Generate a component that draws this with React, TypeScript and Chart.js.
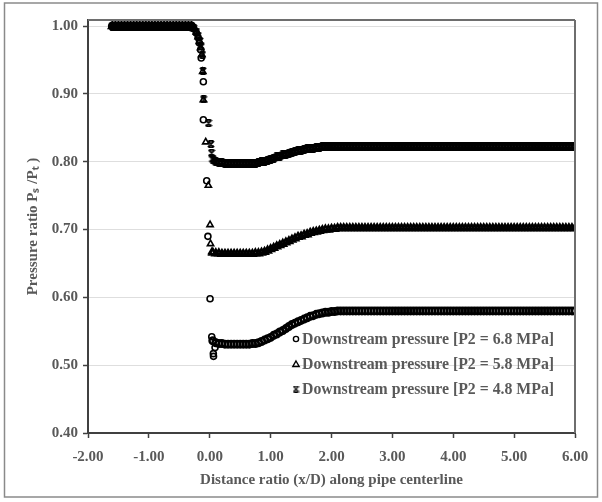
import React, { useEffect, useRef } from 'react';
import { Chart, registerables } from 'chart.js';

Chart.register(...registerables);

// ---------- DATA ----------
const seriesLabels = [
  'Downstream pressure [P2 = 6.8 MPa]',
  'Downstream pressure [P2 = 5.8 MPa]',
  'Downstream pressure [P2 = 4.8 MPa]',
];

const xTickValues = [-2, -1, 0, 1, 2, 3, 4, 5, 6];
const yTickValues = [0.4, 0.5, 0.6, 0.7, 0.8, 0.9, 1.0];

// upstream plateau (shared by all three cases)
const upstreamX = [
  -1.60, -1.55, -1.50, -1.45, -1.40, -1.35, -1.30, -1.25, -1.20, -1.15,
  -1.10, -1.05, -1.00, -0.95, -0.90, -0.85, -0.80, -0.75, -0.70, -0.65,
  -0.60, -0.55, -0.50, -0.45, -0.40, -0.35, -0.30,
];
const upstreamY = [
  1.000, 1.000, 1.000, 1.000, 1.000, 1.000, 1.000, 1.000, 1.000, 1.000,
  1.000, 1.000, 1.000, 1.000, 1.000, 1.000, 1.000, 1.000, 1.000, 1.000,
  1.000, 1.000, 1.000, 1.000, 1.000, 1.000, 1.000,
];

// steep drop near the throat
const drop68X = [-0.26, -0.22, -0.19, -0.17, -0.15, -0.14, -0.105, -0.105, -0.05, -0.03, 0.005, 0.033, 0.059, 0.062, 0.087];
const drop68Y = [0.996, 0.990, 0.983, 0.975, 0.965, 0.953, 0.918, 0.862, 0.772, 0.690, 0.598, 0.542, 0.517, 0.513, 0.526];

const drop58X = [-0.26, -0.22, -0.19, -0.17, -0.15, -0.13, -0.115, -0.105, -0.066, -0.023, 0.005, 0.013, 0.033];
const drop58Y = [0.996, 0.991, 0.984, 0.977, 0.968, 0.958, 0.933, 0.891, 0.829, 0.765, 0.707, 0.679, 0.667];

const drop48X = [-0.26, -0.22, -0.19, -0.16, -0.14, -0.12, -0.11, -0.10, -0.02, 0.02, 0.03];
const drop48Y = [0.997, 0.992, 0.986, 0.978, 0.970, 0.958, 0.934, 0.892, 0.857, 0.826, 0.813];

// downstream recovery
const bandX = [
  0.05, 0.10, 0.15, 0.20, 0.25, 0.30, 0.35, 0.40, 0.45, 0.50,
  0.55, 0.60, 0.65, 0.70, 0.75, 0.80, 0.85, 0.90, 0.95, 1.00,
  1.05, 1.10, 1.15, 1.20, 1.25, 1.30, 1.35, 1.40, 1.45, 1.50,
  1.55, 1.60, 1.65, 1.70, 1.75, 1.80, 1.85, 1.90, 1.95, 2.00,
  2.05, 2.10, 2.15, 2.20, 2.25, 2.30, 2.35, 2.40, 2.45, 2.50,
  2.55, 2.60, 2.65, 2.70, 2.75, 2.80, 2.85, 2.90, 2.95, 3.00,
  3.05, 3.10, 3.15, 3.20, 3.25, 3.30, 3.35, 3.40, 3.45, 3.50,
  3.55, 3.60, 3.65, 3.70, 3.75, 3.80, 3.85, 3.90, 3.95, 4.00,
  4.05, 4.10, 4.15, 4.20, 4.25, 4.30, 4.35, 4.40, 4.45, 4.50,
  4.55, 4.60, 4.65, 4.70, 4.75, 4.80, 4.85, 4.90, 4.95, 5.00,
  5.05, 5.10, 5.15, 5.20, 5.25, 5.30, 5.35, 5.40, 5.45, 5.50,
  5.55, 5.60, 5.65, 5.70, 5.75, 5.80, 5.85, 5.90, 5.95, 6.00,
];

const band68Y = [
  0.536, 0.533, 0.532, 0.532, 0.531, 0.531, 0.531, 0.531, 0.531, 0.531,
  0.531, 0.531, 0.531, 0.532, 0.532, 0.533, 0.535, 0.537, 0.539, 0.541,
  0.544, 0.546, 0.549, 0.551, 0.554, 0.557, 0.560, 0.562, 0.564, 0.566,
  0.568, 0.570, 0.572, 0.573, 0.575, 0.576, 0.577, 0.578, 0.578, 0.579,
  0.579, 0.580, 0.580, 0.580, 0.580, 0.580, 0.580, 0.580, 0.580, 0.580,
  0.580, 0.580, 0.580, 0.580, 0.580, 0.580, 0.580, 0.580, 0.580, 0.580,
  0.580, 0.580, 0.580, 0.580, 0.580, 0.580, 0.580, 0.580, 0.580, 0.580,
  0.580, 0.580, 0.580, 0.580, 0.580, 0.580, 0.580, 0.580, 0.580, 0.580,
  0.580, 0.580, 0.580, 0.580, 0.580, 0.580, 0.580, 0.580, 0.580, 0.580,
  0.580, 0.580, 0.580, 0.580, 0.580, 0.580, 0.580, 0.580, 0.580, 0.580,
  0.580, 0.580, 0.580, 0.580, 0.580, 0.580, 0.580, 0.580, 0.580, 0.580,
  0.580, 0.580, 0.580, 0.580, 0.580, 0.580, 0.580, 0.580, 0.580, 0.580,
];

const band58Y = [
  0.666, 0.665, 0.665, 0.664, 0.664, 0.664, 0.664, 0.664, 0.664, 0.664,
  0.664, 0.664, 0.664, 0.664, 0.665, 0.665, 0.666, 0.667, 0.669, 0.671,
  0.673, 0.675, 0.677, 0.679, 0.681, 0.683, 0.685, 0.687, 0.689, 0.690,
  0.692, 0.693, 0.695, 0.696, 0.697, 0.698, 0.699, 0.700, 0.700, 0.701,
  0.701, 0.702, 0.702, 0.702, 0.702, 0.702, 0.702, 0.702, 0.702, 0.702,
  0.702, 0.702, 0.702, 0.702, 0.702, 0.702, 0.702, 0.702, 0.702, 0.702,
  0.702, 0.702, 0.702, 0.702, 0.702, 0.702, 0.702, 0.702, 0.702, 0.702,
  0.702, 0.702, 0.702, 0.702, 0.702, 0.702, 0.702, 0.702, 0.702, 0.702,
  0.702, 0.702, 0.702, 0.702, 0.702, 0.702, 0.702, 0.702, 0.702, 0.702,
  0.702, 0.702, 0.702, 0.702, 0.702, 0.702, 0.702, 0.702, 0.702, 0.702,
  0.702, 0.702, 0.702, 0.702, 0.702, 0.702, 0.702, 0.702, 0.702, 0.702,
  0.702, 0.702, 0.702, 0.702, 0.702, 0.702, 0.702, 0.702, 0.702, 0.702,
];

const band48Y = [
  0.804, 0.800, 0.799, 0.799, 0.798, 0.798, 0.798, 0.798, 0.798, 0.798,
  0.798, 0.798, 0.798, 0.798, 0.798, 0.799, 0.800, 0.801, 0.802, 0.804,
  0.805, 0.807, 0.808, 0.810, 0.811, 0.812, 0.814, 0.815, 0.816, 0.817,
  0.818, 0.819, 0.819, 0.820, 0.821, 0.821, 0.822, 0.822, 0.822, 0.823,
  0.823, 0.823, 0.823, 0.823, 0.823, 0.823, 0.823, 0.823, 0.823, 0.823,
  0.823, 0.823, 0.823, 0.823, 0.823, 0.823, 0.823, 0.823, 0.823, 0.823,
  0.823, 0.823, 0.823, 0.823, 0.823, 0.823, 0.823, 0.823, 0.823, 0.823,
  0.823, 0.823, 0.823, 0.823, 0.823, 0.823, 0.823, 0.823, 0.823, 0.823,
  0.823, 0.823, 0.823, 0.823, 0.823, 0.823, 0.823, 0.823, 0.823, 0.823,
  0.823, 0.823, 0.823, 0.823, 0.823, 0.823, 0.823, 0.823, 0.823, 0.823,
  0.823, 0.823, 0.823, 0.823, 0.823, 0.823, 0.823, 0.823, 0.823, 0.823,
  0.823, 0.823, 0.823, 0.823, 0.823, 0.823, 0.823, 0.823, 0.823, 0.823,
];

const xTitle = 'Distance ratio (x/D) along pipe centerline';
const yTitle = 'Pressure ratio P\u209B /P\u209C )';

// ---------- HELPERS ----------
function toPoints(xs: number[], ys: number[], dense: boolean) {
  return xs.map((x, i) => ({ x, y: ys[i], dense }));
}

const SERIF = '"Times New Roman", "Liberation Serif", serif';
const TEXT = '#595959';
const AXIS = '#404040';

function makeStar(size: number, lw: number) {
  const c = document.createElement('canvas');
  c.width = size;
  c.height = size;
  const g = c.getContext('2d')!;
  g.strokeStyle = '#000';
  g.lineWidth = lw;
  const a = lw / 2, b = size - lw / 2;
  g.beginPath();
  g.moveTo(a, a); g.lineTo(b, b);
  g.moveTo(b, a); g.lineTo(a, b);
  g.moveTo(a + 1, a); g.lineTo(b - 1, a);
  g.moveTo(a + 1, b); g.lineTo(b - 1, b);
  g.stroke();
  return c;
}

export default function App() {
  const ref = useRef<HTMLCanvasElement | null>(null);

  useEffect(() => {
    if (!ref.current) return;
    const star = makeStar(8, 1.8);
    const starDense = makeStar(9, 2.6);
    const starSmall = makeStar(7, 1.3);

    const framePlugin = {
      id: 'frame',
      beforeDraw(chart: any) {
        const { ctx } = chart;
        ctx.save();
        ctx.fillStyle = '#fff';
        ctx.fillRect(0, 0, chart.width, chart.height);
        ctx.strokeStyle = '#8a8a8a';
        ctx.lineWidth = 1.5;
        ctx.strokeRect(4.5, 3, 593, 494);
        ctx.restore();
      },
      afterDatasetsDraw(chart: any) {
        const { ctx, chartArea: ca } = chart;
        ctx.save();
        ctx.strokeStyle = '#6e6e6e';
        ctx.lineWidth = 2;
        ctx.beginPath();
        ctx.moveTo(ca.left, ca.top);
        ctx.lineTo(ca.right, ca.top);
        ctx.moveTo(ca.right, ca.top);
        ctx.lineTo(ca.right, ca.bottom);
        ctx.stroke();
        ctx.restore();
      },
    };

    const legendPlugin = {
      id: 'insideLegend',
      afterDraw(chart: any) {
        const { ctx, chartArea: ca } = chart;
        const x0 = ca.left + 208;
        const rowOffsets = [94, 69, 44];
        ctx.save();
        ctx.font = `bold 15.8px ${SERIF}`;
        ctx.textBaseline = 'middle';
        ctx.textAlign = 'left';
        seriesLabels.forEach((label, i) => {
          const y = ca.bottom - rowOffsets[i];
          ctx.strokeStyle = '#000';
          ctx.lineWidth = 1.4;
          if (i === 0) {
            ctx.beginPath();
            ctx.arc(x0, y, 2.6, 0, Math.PI * 2);
            ctx.stroke();
          } else if (i === 1) {
            ctx.beginPath();
            ctx.moveTo(x0, y - 3);
            ctx.lineTo(x0 + 3.2, y + 2.5);
            ctx.lineTo(x0 - 3.2, y + 2.5);
            ctx.closePath();
            ctx.stroke();
          } else {
            ctx.drawImage(starSmall, x0 - 3.5, y - 3.5);
          }
          ctx.fillStyle = TEXT;
          ctx.fillText(label, x0 + 6, y + 0.5);
        });
        ctx.restore();
      },
    };

    const isDense = (c: any) => !!(c.raw && c.raw.dense);
    const common = {
      showLine: false,
      borderColor: '#000',
      backgroundColor: 'rgba(0,0,0,0)',
      borderWidth: (c: any) => (isDense(c) ? 2.4 : 1.6),
    };

    const chart = new Chart(ref.current, {
      type: 'scatter',
      data: {
        datasets: [
          {
            ...common,
            label: seriesLabels[0],
            pointStyle: 'circle',
            pointRadius: (c: any) => (isDense(c) ? 3.3 : 3),
            data: [...toPoints(upstreamX, upstreamY, true), ...toPoints(drop68X, drop68Y, false), ...toPoints(bandX, band68Y, true)],
          },
          {
            ...common,
            label: seriesLabels[1],
            pointStyle: 'triangle',
            pointRadius: (c: any) => (isDense(c) ? 3.8 : 3.6),
            data: [...toPoints(upstreamX, upstreamY, true), ...toPoints(drop58X, drop58Y, false), ...toPoints(bandX, band58Y, true)],
          },
          {
            ...common,
            label: seriesLabels[2],
            pointStyle: (c: any) => (isDense(c) ? starDense : star),
            pointRadius: 4,
            data: [...toPoints(upstreamX, upstreamY, true), ...toPoints(drop48X, drop48Y, false), ...toPoints(bandX, band48Y, true)],
          },
        ],
      },
      options: {
        responsive: false,
        animation: false,
        devicePixelRatio: 1,
        layout: { padding: { top: 20, right: 27, left: 0, bottom: 0 } },
        plugins: {
          legend: { display: false },
          tooltip: { enabled: false },
        },
        scales: {
          x: {
            type: 'linear',
            min: -2,
            max: 6,
            afterBuildTicks: (scale: any) => {
              scale.ticks = xTickValues.map((v) => ({ value: v }));
            },
            afterFit: (scale: any) => {
              scale.height = 69;
            },
            ticks: {
              autoSkip: false,
              maxRotation: 0,
              padding: 10,
              color: TEXT,
              font: { family: SERIF, size: 15, weight: 'bold' },
              callback: (v: any) => Number(v).toFixed(2),
            },
            grid: {
              drawOnChartArea: false,
              drawTicks: true,
              tickLength: 5,
              tickColor: AXIS,
              tickWidth: 1.5,
            },
            border: { color: AXIS, width: 2 },
            title: {
              display: true,
              text: xTitle,
              color: TEXT,
              font: { family: SERIF, size: 15, weight: 'bold' },
              padding: { top: 0, bottom: 13 },
            },
          },
          y: {
            type: 'linear',
            min: 0.4,
            max: 1.009,
            afterBuildTicks: (scale: any) => {
              scale.ticks = yTickValues.map((v) => ({ value: v }));
            },
            afterFit: (scale: any) => {
              scale.width = 88;
            },
            ticks: {
              autoSkip: false,
              padding: 5,
              color: TEXT,
              font: { family: SERIF, size: 15, weight: 'bold' },
              callback: (v: any) => Number(v).toFixed(2),
            },
            grid: {
              color: '#dedede',
              lineWidth: 1,
              drawTicks: true,
              tickLength: 5,
              tickColor: AXIS,
              tickWidth: 1.5,
            },
            border: { color: AXIS, width: 2 },
            title: {
              display: true,
              text: yTitle,
              color: TEXT,
              font: { family: SERIF, size: 15, weight: 'bold' },
              padding: { top: 24, bottom: 0 },
            },
          },
        },
      },
      plugins: [framePlugin, legendPlugin],
    } as any);

    return () => chart.destroy();
  }, []);

  return (
    <div style={{ position: 'absolute', left: 0, top: 0, width: 602, height: 502 }}>
      <canvas ref={ref} width={602} height={502} style={{ width: 602, height: 502, display: 'block' }} />
    </div>
  );
}
